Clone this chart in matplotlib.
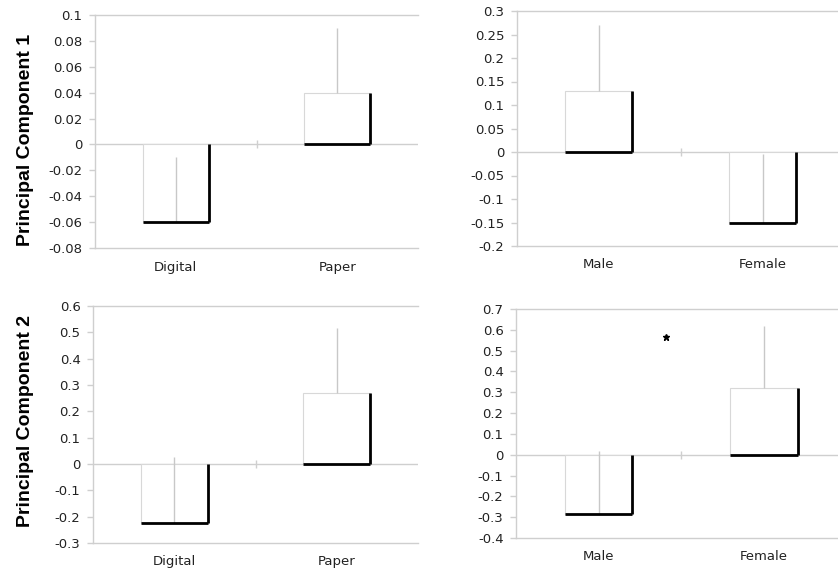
import numpy as np
import matplotlib.pyplot as plt

plt.rcParams["axes.unicode_minus"] = False

# categories
format_groups = ["Digital", "Paper"]
gender_groups = ["Male", "Female"]

# Principal Component 1
pc1_format = [-0.06, 0.04]
pc1_format_err = [0.05, 0.05]
pc1_gender = [0.13, -0.15]
pc1_gender_err = [0.14, 0.145]

# Principal Component 2
pc2_format = [-0.225, 0.27]
pc2_format_err = [0.25, 0.245]
pc2_gender = [-0.285, 0.32]
pc2_gender_err = [0.305, 0.30]

# significance mark (PC2, gender)
star_x, star_y = 0.41, 0.567

GRID = "#cfcfcf"
ERR = "#c8c8c8"
TXT = "#222222"
W = 0.41

fig = plt.figure(figsize=(8.38, 5.73), dpi=100)


def panel(rect, cats, vals, errs, ylim, step, xmax):
    ax = fig.add_axes(rect)
    x = np.arange(len(cats))
    ax.axhline(0, color=GRID, lw=1, zorder=1)
    ax.bar(x, vals, width=W, color="white", edgecolor="#d8d8d8", lw=0.8, zorder=2)
    ax.errorbar(x, vals, yerr=[np.zeros(len(vals)), errs], fmt="none",
                ecolor=ERR, elinewidth=1, capsize=0, zorder=3)
    # dark shadow on right and bottom sides of each bar
    for xi, v in zip(x, vals):
        ax.plot([xi + W / 2, xi + W / 2], [0, v], color="black", lw=2,
                solid_capstyle="butt", zorder=4)
        ax.plot([xi - W / 2, xi + W / 2], [min(v, 0), min(v, 0)], color="black",
                lw=2, solid_capstyle="butt", zorder=4)
    # category divider tick on the zero line
    ax.plot([0.5], [0], marker="|", ms=6, mew=1, color=GRID, zorder=1)
    ax.set_xlim(-0.5, xmax)
    ax.set_ylim(*ylim)
    ticks = np.round(np.arange(ylim[0], ylim[1] + step / 2, step), 3) + 0.0
    ax.set_yticks(ticks)
    ax.set_yticklabels([f"{abs(t):g}" if abs(t) < 1e-9 else f"{t:g}" for t in ticks])
    ax.set_xticks(x)
    ax.set_xticklabels(cats)
    ax.tick_params(axis="y", length=4, width=1, color=GRID, pad=5,
                   labelsize=9.5, labelcolor=TXT)
    ax.tick_params(axis="x", length=0, pad=9, labelsize=9.5, labelcolor=TXT)
    for s in ["left", "top", "bottom"]:
        ax.spines[s].set_color(GRID)
        ax.spines[s].set_linewidth(1)
    ax.spines["right"].set_visible(False)
    return ax


panel([95 / 838, 1 - 248 / 573, 323 / 838, 233 / 573], format_groups,
      pc1_format, pc1_format_err, (-0.08, 0.1), 0.02, 1.5)
panel([517 / 838, 1 - 246 / 573, 321 / 838, 235 / 573], gender_groups,
      pc1_gender, pc1_gender_err, (-0.2, 0.3), 0.05, 1.46)
panel([93 / 838, 1 - 543 / 573, 325 / 838, 237 / 573], format_groups,
      pc2_format, pc2_format_err, (-0.3, 0.6), 0.1, 1.5)
ax4 = panel([516 / 838, 1 - 538 / 573, 322 / 838, 229 / 573], gender_groups,
            pc2_gender, pc2_gender_err, (-0.4, 0.7), 0.1, 1.45)
ax4.plot([star_x], [star_y], marker="*", ms=5, color="black", zorder=5)

fig.text(25 / 838, 1 - 140 / 573, "Principal Component 1", rotation=90,
         ha="center", va="center", fontsize=14, fontweight="bold",
         family="Liberation Sans")
fig.text(25 / 838, 1 - 421 / 573, "Principal Component 2", rotation=90,
         ha="center", va="center", fontsize=14, fontweight="bold",
         family="Liberation Sans")

plt.savefig("out.png", dpi=100)
